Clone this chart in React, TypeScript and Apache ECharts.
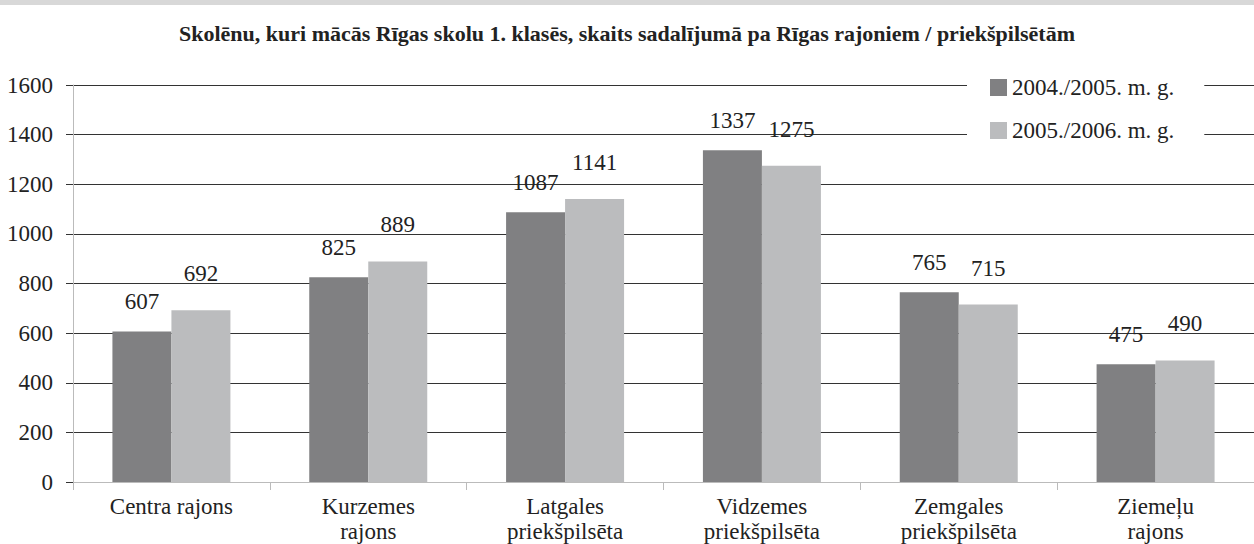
import React, { useEffect, useRef } from "react";
import * as echarts from "echarts";

const title =
  "Skolēnu, kuri mācās Rīgas skolu 1. klasēs, skaits sadalījumā pa Rīgas rajoniem / priekšpilsētām";
const categories = [
  "Centra rajons",
  "Kurzemes\nrajons",
  "Latgales\npriekšpilsēta",
  "Vidzemes\npriekšpilsēta",
  "Zemgales\npriekšpilsēta",
  "Ziemeļu\nrajons",
];
const seriesNames = ["2004./2005. m. g.", "2005./2006. m. g."];
const values2004 = [607, 825, 1087, 1337, 765, 475];
const values2005 = [692, 889, 1141, 1275, 715, 490];

const FONT = "'Liberation Serif', 'DejaVu Serif', serif";

export default function App() {
  const ref = useRef<HTMLDivElement>(null);
  useEffect(() => {
    document.body.style.margin = "0";
    const chart = echarts.init(ref.current!, undefined, { renderer: "svg" });
    chart.setOption({
      animation: false,
      backgroundColor: "#ffffff",
      title: {
        text: title,
        left: "center",
        top: 17,
        textStyle: {
          fontFamily: FONT,
          fontWeight: "bold",
          fontSize: 22,
          color: "#222",
        },
      },
      graphic: [
        {
          type: "rect",
          shape: { x: 0, y: 0, width: 1254, height: 5 },
          style: { fill: "#d8d8d8" },
        },
      ],
      legend: {
        orient: "vertical",
        left: 967,
        top: 68,
        padding: [8, 30, 8, 23],
        backgroundColor: "#ffffff",
        itemWidth: 17,
        itemHeight: 17,
        itemGap: 20,
        icon: "rect",
        textStyle: { fontFamily: FONT, fontSize: 23, color: "#222" },
        data: seriesNames,
      },
      grid: { left: 73, right: 0, top: 85, bottom: 62, containLabel: false },
      xAxis: {
        type: "category",
        data: categories,
        axisLine: { lineStyle: { color: "#bbbbbb", width: 1 } },
        axisTick: { show: true, length: 8, lineStyle: { color: "#bbbbbb" } },
        axisLabel: {
          fontFamily: FONT,
          fontSize: 23,
          color: "#222",
          margin: 12,
          lineHeight: 25,
          interval: 0,
        },
      },
      yAxis: {
        type: "value",
        min: 0,
        max: 1600,
        interval: 200,
        axisLine: { show: true, lineStyle: { color: "#bbbbbb", width: 1 } },
        axisTick: { show: true, length: 7, lineStyle: { color: "#333" } },
        axisLabel: {
          fontFamily: FONT,
          fontSize: 23,
          color: "#222",
          margin: 20,
          formatter: (v: number) => String(v),
        },
        splitLine: { lineStyle: { color: "#333", width: 1 } },
      },
      series: [
        {
          name: seriesNames[0],
          type: "bar",
          data: values2004,
          barWidth: 59,
          barGap: "0%",
          itemStyle: { color: "#808082" },
          label: {
            show: true,
            position: "top",
            distance: 18,
            fontFamily: FONT,
            fontSize: 23,
            color: "#222",
          },
        },
        {
          name: seriesNames[1],
          type: "bar",
          data: values2005,
          barWidth: 59,
          barGap: "0%",
          itemStyle: { color: "#bbbcbe" },
          label: {
            show: true,
            position: "top",
            distance: 25,
            fontFamily: FONT,
            fontSize: 23,
            color: "#222",
          },
        },
      ],
    });
    return () => chart.dispose();
  }, []);
  return <div ref={ref} style={{ width: 1254, height: 544 }} />;
}
